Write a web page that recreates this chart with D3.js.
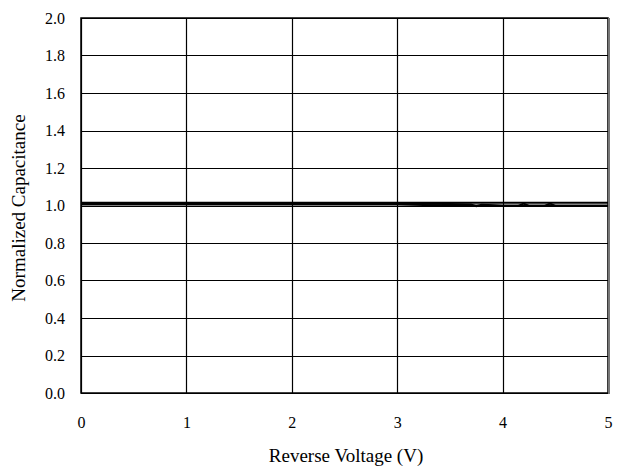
<!doctype html>
<html lang="en">
  <head>
    <meta charset="utf-8">
    <title>Normalized Capacitance vs Reverse Voltage</title>
    <script src="https://d3js.org/d3.v7.min.js"></script>
    <style>
    body { margin: 0; background: #fff; }
    svg text { font-family: "Liberation Serif", "DejaVu Serif", serif !important; fill: #000; }
    </style>
  </head>

  <body>
    <div id="chart">
      <svg width="621" height="468"></svg>
    </div>

    <script>
      // data
      var voltage = [0, 0.5, 1, 1.5, 2, 2.5, 3, 3.5, 3.7, 3.75, 3.8, 4, 4.15, 4.2, 4.25, 4.4, 4.45, 4.5, 4.75, 5];
      var seriesA = [1.015, 1.015, 1.015, 1.015, 1.015, 1.015, 1.015, 1.015, 1.015, 1.015, 1.015, 1.015, 1.015, 1.015, 1.015, 1.015, 1.015, 1.015, 1.015, 1.015];
      var seriesB = [1.005, 1.005, 1.005, 1.005, 1.005, 1.005, 1.005, 1.0, 1.0, 1.0, 1.0, 0.998, 0.998, 1.01, 0.998, 0.998, 1.01, 0.998, 0.998, 0.998];
      var seriesC = [1.01, 1.01, 1.01, 1.01, 1.01, 1.01, 1.01, 1.008, 1.006, 0.996, 1.004, 1.0, 1.0, 1.0, 1.0, 1.0, 1.0, 1.0, 1.0, 1.0];
      var xTicks = [0, 1, 2, 3, 4, 5];
      var yTicks = [0, 0.2, 0.4, 0.6, 0.8, 1.0, 1.2, 1.4, 1.6, 1.8, 2.0];

      var svg = d3.select('svg');
      var plotLeft = 81, plotRight = 608, plotTop = 18, plotBottom = 393;

      var x = d3.scaleLinear().domain([0, 5]).range([plotLeft, plotRight]);
      var y = d3.scaleLinear().domain([0, 2]).range([plotBottom, plotTop]);

      // grid
      svg.append('g').selectAll('line')
        .data(yTicks)
        .enter().append('line')
          .attr('x1', plotLeft).attr('x2', plotRight)
          .attr('y1', function(d){ return Math.round(y(d)) + 0.5; })
          .attr('y2', function(d){ return Math.round(y(d)) + 0.5; })
          .attr('stroke', '#000').attr('stroke-width', 1.2);

      svg.append('g').selectAll('line')
        .data(xTicks)
        .enter().append('line')
          .attr('y1', plotTop).attr('y2', plotBottom)
          .attr('x1', function(d){ return Math.round(x(d)) + 0.5; })
          .attr('x2', function(d){ return Math.round(x(d)) + 0.5; })
          .attr('stroke', '#000').attr('stroke-width', 1.2);

      // frame
      svg.append('rect')
        .attr('x', plotLeft).attr('y', plotTop)
        .attr('width', plotRight - plotLeft).attr('height', plotBottom - plotTop)
        .attr('fill', 'none').attr('stroke', '#000').attr('stroke-width', 1.5);
      svg.append('line')
        .attr('x1', plotRight + 1).attr('x2', plotRight + 1)
        .attr('y1', plotTop).attr('y2', plotBottom + 1)
        .attr('stroke', '#777').attr('stroke-width', 2);

      // tick labels via d3 axes, lines hidden
      var yAxis = svg.append('g')
        .attr('transform', 'translate(' + plotLeft + ',0)')
        .call(d3.axisLeft(y).tickValues(yTicks).tickFormat(d3.format('.1f')).tickSize(0).tickPadding(16));
      var xAxis = svg.append('g')
        .attr('transform', 'translate(0,' + plotBottom + ')')
        .call(d3.axisBottom(x).tickValues(xTicks).tickFormat(d3.format('d')).tickSize(0).tickPadding(24));
      [yAxis, xAxis].forEach(function(a){
        a.attr('font-family', '"Liberation Serif", serif').attr('font-size', 16);
        a.select('.domain').remove();
        a.selectAll('text').attr('fill', '#000');
      });

      // series
      var line = d3.line()
        .x(function(d){ return x(d[0]); })
        .y(function(d){ return y(d[1]); });

      [seriesA, seriesB, seriesC].forEach(function(s){
        svg.append('path')
          .datum(voltage.map(function(v, i){ return [v, s[i]]; }))
          .attr('d', line)
          .attr('fill', 'none')
          .attr('stroke', '#000')
          .attr('stroke-width', 2);
      });

      // titles
      svg.append('text')
        .attr('x', 346).attr('y', 462)
        .attr('text-anchor', 'middle')
        .style('font-size', '19px')
        .text('Reverse Voltage (V)');

      svg.append('text')
        .attr('transform', 'translate(25,208) rotate(-90)')
        .attr('text-anchor', 'middle')
        .style('font-size', '19px')
        .text('Normalized Capacitance');
    </script>
  </body>
</html>
